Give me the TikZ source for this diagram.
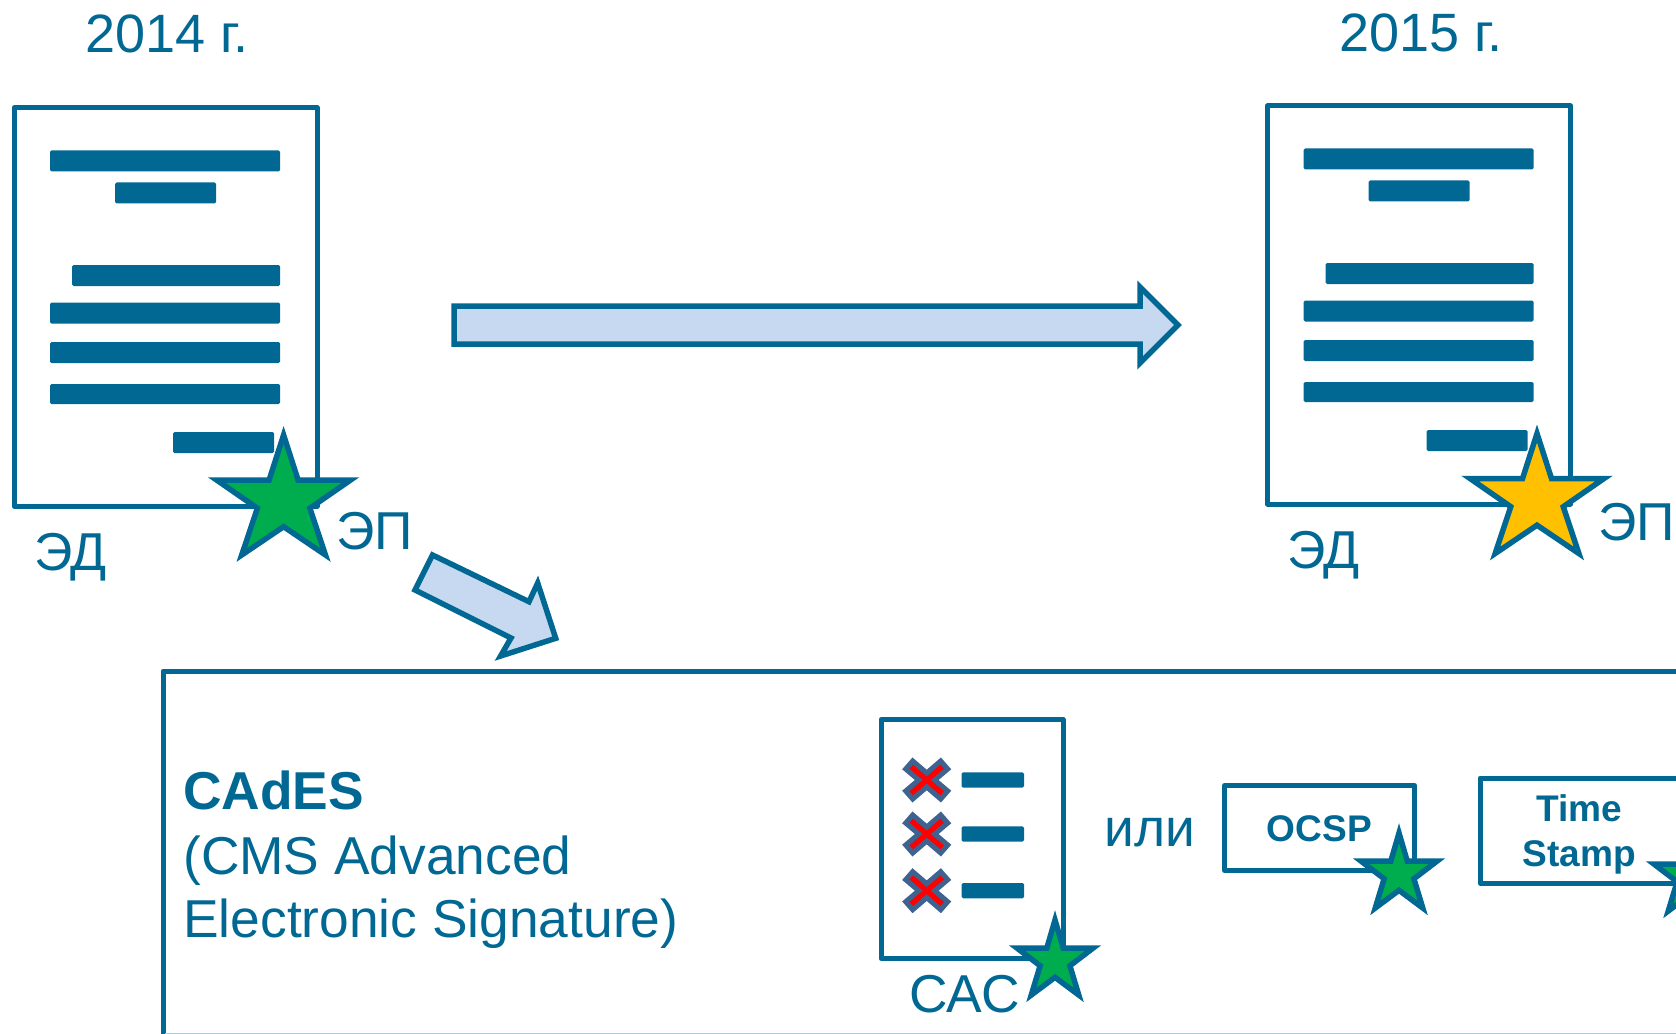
\documentclass[tikz,border=0pt]{standalone}
\usepackage{fontspec}
\setmainfont{Liberation Sans}
\definecolor{teal}{HTML}{006892}
\definecolor{pale}{HTML}{C6D9F1}
\definecolor{sgreen}{HTML}{00AD4E}
\definecolor{sgold}{HTML}{FFC000}
\definecolor{slate}{HTML}{3F6390}
\definecolor{edge}{HTML}{A9CEDB}
\newcommand{\px}{0.75pt}
\newcommand{\tstar}[5]{% cx, top, halfwidth, height, fill
  \filldraw[starline,fill=#5] (#1,#2)
   -- ++(0.216*#3,0.375*#4) -- (#1+#3,#2+0.375*#4) -- (#1+0.392*#3,#2+0.61*#4)
   -- (#1+0.625*#3,#2+#4) -- (#1,#2+0.764*#4) -- (#1-0.625*#3,#2+#4)
   -- (#1-0.392*#3,#2+0.61*#4) -- (#1-#3,#2+0.375*#4) -- (#1-0.216*#3,#2+0.375*#4) -- cycle;}
\newcommand{\tbar}[4]{\fill[barfill] (#1,#2) rectangle (#3,#4);}
\newcommand{\tcross}[2]{%
  \begin{scope}[shift={(#1,#2)}]
  \filldraw[draw=slate,fill=red,line width=5*\px,miter limit=10]
   (-14,-19) -- (0,-7) -- (14,-19) -- (21,-11) -- (8,0) -- (21,11) -- (14,19)
   -- (0,7) -- (-14,19) -- (-21,11) -- (-8,0) -- (-21,-11) -- cycle;
  \end{scope}}
\newcommand{\tdoc}[2]{%
  \begin{scope}[shift={(#1,#2)}]
  \draw[boxline] (14,108) rectangle (317,506);
  \tbar{50}{150.5}{280}{171.5}
  \tbar{115}{182.5}{216}{203.5}
  \tbar{72}{265}{280}{286}
  \tbar{50}{302.5}{280}{323.5}
  \tbar{50}{342}{280}{363}
  \tbar{50}{384}{280}{404}
  \tbar{173}{432}{274}{453}
  \end{scope}}
\tikzset{
  boxline/.style={draw=teal,line width=5*\px,line join=round},
  barfill/.style={fill=teal,rounded corners=1.5*\px},
  starline/.style={draw=teal,line width=5.5*\px,miter limit=12},
  arrowline/.style={draw=teal,fill=pale,line width=5.5*\px,miter limit=10},
  lab/.style={text=teal,inner sep=0pt,font=\fontsize{40.5pt}{48pt}\selectfont,anchor=base west},
  labs/.style={text=teal,inner sep=0pt,font=\fontsize{40pt}{48pt}\selectfont,anchor=base west},
  boldlab/.style={text=teal,inner sep=0pt,font=\bfseries\fontsize{27.8pt}{33.7pt}\selectfont,align=center},
}
\begin{document}
\begin{tikzpicture}[x=0.75pt,y=-0.75pt]
\useasboundingbox (0,0) rectangle (1676,1034);
\clip (0,0) rectangle (1676,1034);
% documents
\tdoc{0}{0}
\tdoc{1253.5}{-2}
\tstar{283.6}{435}{67}{120}{sgreen}
\tstar{1537}{433.5}{67}{120}{sgold}
\node[lab] (y1) at (85,53) {2014 г.};
\node[lab] (y2) at (1339,51.5) {2015 г.};
\node[labs] (ed1) at (34,570.5) {ЭД};
\node[labs] (ep1) at (336,549.5) {ЭП};
\node[labs] (ed2) at (1287,568.5) {ЭД};
\node[labs] (ep2) at (1598,540.5) {ЭП};
% arrows
\filldraw[arrowline] (454,306) -- (1140,306) -- (1140,287) -- (1178,325) -- (1140,363) -- (1140,344) -- (454,344) -- cycle;
\filldraw[arrowline] (432.5,555) -- (415,590) -- (511,638) -- (500.6,656) -- (555.7,638.3) -- (537.7,583) -- (529,601.7) -- cycle;
% main box
\draw[boxline] (163,671) rectangle (1690,1045);
\draw[edge,line width=1.2*\px] (165,1033.4) -- (1676,1033.4);
\node[labs] (t1) at (183,809) {\bfseries CAdES};
\node[labs] (t2) at (183,874) {(CMS Advanced};
\node[labs] (t3) at (183,937.5) {Electronic Signature)};
% CRL
\draw[boxline] (881,719.5) rectangle (1063,958.5);
\tcross{926.7}{780}
\tcross{926.7}{834}
\tcross{926.7}{890.7}
\tbar{961.6}{772.3}{1024}{787.7}
\tbar{961.6}{826.3}{1024}{841.7}
\tbar{961.6}{883}{1024}{898.3}
\tstar{1055}{920}{38}{75}{sgreen}
\node[labs] (cac) at (909,1012.5) {САС};
\node[labs] (ili) at (1104,846) {или};
% OCSP
\draw[boxline] (1224.5,785.5) rectangle (1414.5,870.5);
\node[boldlab] (ocsp) at (1319.5,829) {OCSP};
\tstar{1399}{833}{38}{75}{sgreen}
% Time stamp
\draw[boxline] (1480,778) rectangle (1690,883);
\node[boldlab] (ts) at (1579,834) {Time\\Stamp};
\tstar{1692}{836}{38}{75}{sgreen}
\end{tikzpicture}
\end{document}
